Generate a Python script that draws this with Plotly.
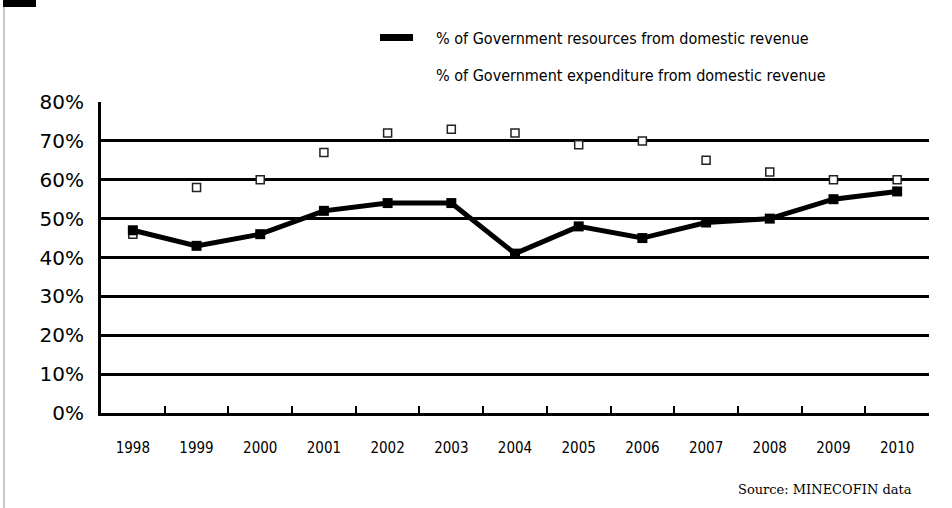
import plotly.graph_objects as go

years = ["1998", "1999", "2000", "2001", "2002", "2003", "2004",
         "2005", "2006", "2007", "2008", "2009", "2010"]
resources_pct = [0.47, 0.43, 0.46, 0.52, 0.54, 0.54, 0.41,
                 0.48, 0.45, 0.49, 0.50, 0.55, 0.57]
expenditure_pct = [0.46, 0.58, 0.60, 0.67, 0.72, 0.73, 0.72,
                   0.69, 0.70, 0.65, 0.62, 0.60, 0.60]
y_ticks = [0, 0.1, 0.2, 0.3, 0.4, 0.5, 0.6, 0.7, 0.8]
legend_labels = ["% of Government resources from domestic revenue",
                 "% of Government expenditure from domestic revenue"]
source_text = "Source: MINECOFIN data"

W, H = 952, 508
L, R, T, B = 101, 23, 102, 95
pw, ph = W - L - R, H - T - B

narrow = "Liberation Sans Narrow, Arial Narrow, DejaVu Sans Condensed, sans-serif"

fig = go.Figure()
fig.add_trace(go.Scatter(
    x=years, y=expenditure_pct, mode="markers", name=legend_labels[1],
    marker=dict(symbol="square", size=8, color="white",
                line=dict(color="#222", width=1.5)),
    showlegend=False))
fig.add_trace(go.Scatter(
    x=years, y=resources_pct, mode="lines+markers", name=legend_labels[0],
    line=dict(color="black", width=5),
    marker=dict(symbol="square", size=10, color="black"),
    showlegend=False))

def px_x(x):
    return (x - L) / pw

def px_y(y):
    return (H - B - y) / ph

shapes = [
    # legend key for the line series
    dict(type="rect", xref="paper", yref="paper",
         x0=px_x(380), x1=px_x(413), y0=px_y(41), y1=px_y(34),
         fillcolor="black", line=dict(width=0)),
    # page border at left
    dict(type="line", xref="paper", yref="paper",
         x0=px_x(4), x1=px_x(4), y0=px_y(7), y1=px_y(510),
         line=dict(color="#c8c8c8", width=2)),
    # header block at top-left
    dict(type="rect", xref="paper", yref="paper",
         x0=px_x(3), x1=px_x(36), y0=px_y(7), y1=px_y(-2),
         fillcolor="black", line=dict(width=0)),
]

annotations = [
    dict(text=legend_labels[0], xref="paper", yref="paper",
         x=px_x(434), y=px_y(38), xanchor="left", yanchor="middle",
         showarrow=False, font=dict(family=narrow, size=16, color="black")),
    dict(text=legend_labels[1], xref="paper", yref="paper",
         x=px_x(434), y=px_y(75), xanchor="left", yanchor="middle",
         showarrow=False, font=dict(family=narrow, size=16, color="black")),
    dict(text=source_text, xref="paper", yref="paper",
         x=px_x(914), y=px_y(489), xanchor="right", yanchor="middle",
         showarrow=False,
         font=dict(family="DejaVu Serif, Liberation Serif, serif", size=13, color="black")),
]

fig.update_layout(
    width=W, height=H,
    margin=dict(l=L, r=R, t=T, b=B, pad=0),
    paper_bgcolor="white", plot_bgcolor="white",
    shapes=shapes, annotations=annotations,
    xaxis=dict(
        type="category", showgrid=False, showline=True, linecolor="black",
        linewidth=3, ticks="inside", tickson="boundaries", ticklen=7,
        tickwidth=2, tickcolor="black", ticklabelstandoff=19,
        tickfont=dict(family=narrow, size=15, color="black"),
        range=[-0.5, 12.5], zeroline=False),
    yaxis=dict(
        range=[0, 0.8], tickvals=y_ticks, tickformat=".0%",
        showgrid=True, gridcolor="black", gridwidth=2.5,
        showline=True, linecolor="black", linewidth=3, mirror=False,
        ticks="", ticklabelstandoff=10, zeroline=False,
        tickfont=dict(family="DejaVu Sans, sans-serif", size=20, color="black")),
)

fig.write_html("out.html")
